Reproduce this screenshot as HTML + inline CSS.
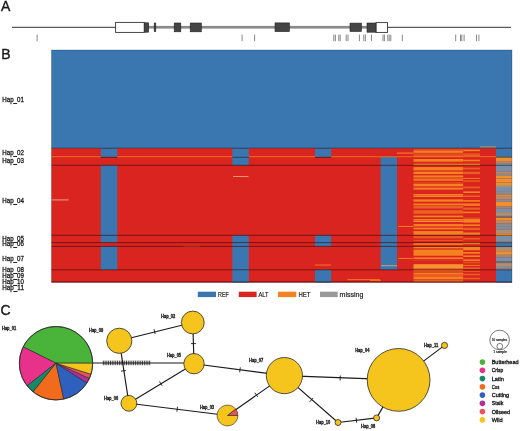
<!DOCTYPE html>
<html><head><meta charset="utf-8"><style>
html,body{margin:0;padding:0;background:#fff;}
svg{display:block;font-family:"Liberation Sans",sans-serif;will-change:transform;}
text{fill:#1a1a1a;}
</style></head><body>
<svg width="520" height="431" viewBox="0 0 520 431">
<text x="1.00" y="10.90" font-size="14" stroke="#111" stroke-width="0.35">A</text>
<line x1="12.00" y1="27.30" x2="116.00" y2="27.30" stroke="#333" stroke-width="1"/>
<line x1="387.60" y1="27.30" x2="511.00" y2="27.30" stroke="#333" stroke-width="1"/>
<rect x="148.00" y="25.90" width="202.00" height="2.70" fill="#8a8a8a"/>
<rect x="361.00" y="25.90" width="6.00" height="2.70" fill="#8a8a8a"/>
<rect x="115.6" y="22.4" width="28.6" height="10" fill="#fff" stroke="#333" stroke-width="0.9"/>
<rect x="376" y="22.6" width="11.5" height="9.8" fill="#fff" stroke="#333" stroke-width="0.9"/>
<rect x="144.4" y="22.8" width="4.199999999999989" height="9.400000000000002" fill="#444" stroke="#222" stroke-width="0.6"/>
<rect x="154.2" y="23.0" width="1.6000000000000227" height="8.600000000000001" fill="#444" stroke="#222" stroke-width="0.6"/>
<rect x="174.2" y="23.0" width="6.600000000000023" height="8.8" fill="#444" stroke="#222" stroke-width="0.6"/>
<rect x="190.2" y="23.0" width="11.100000000000023" height="8.8" fill="#444" stroke="#222" stroke-width="0.6"/>
<rect x="275" y="22.9" width="14.399999999999977" height="8.700000000000003" fill="#444" stroke="#222" stroke-width="0.6"/>
<rect x="350" y="23.1" width="11.399999999999977" height="8.399999999999999" fill="#444" stroke="#222" stroke-width="0.6"/>
<rect x="367" y="23.0" width="9" height="9.200000000000003" fill="#444" stroke="#222" stroke-width="0.6"/>
<line x1="37.10" y1="34.60" x2="37.10" y2="41.20" stroke="#7a7a7a" stroke-width="0.9"/>
<line x1="242.10" y1="34.60" x2="242.10" y2="41.20" stroke="#7a7a7a" stroke-width="0.9"/>
<line x1="254.60" y1="34.60" x2="254.60" y2="41.20" stroke="#7a7a7a" stroke-width="0.9"/>
<line x1="333.80" y1="34.60" x2="333.80" y2="41.20" stroke="#7a7a7a" stroke-width="0.9"/>
<line x1="335.40" y1="34.60" x2="335.40" y2="41.20" stroke="#7a7a7a" stroke-width="0.9"/>
<line x1="338.80" y1="34.60" x2="338.80" y2="41.20" stroke="#7a7a7a" stroke-width="0.9"/>
<line x1="340.20" y1="34.60" x2="340.20" y2="41.20" stroke="#7a7a7a" stroke-width="0.9"/>
<line x1="346.20" y1="34.60" x2="346.20" y2="41.20" stroke="#7a7a7a" stroke-width="0.9"/>
<line x1="348.00" y1="34.60" x2="348.00" y2="41.20" stroke="#7a7a7a" stroke-width="0.9"/>
<line x1="359.40" y1="34.60" x2="359.40" y2="41.20" stroke="#7a7a7a" stroke-width="0.9"/>
<line x1="363.80" y1="34.60" x2="363.80" y2="41.20" stroke="#7a7a7a" stroke-width="0.9"/>
<line x1="365.40" y1="34.60" x2="365.40" y2="41.20" stroke="#7a7a7a" stroke-width="0.9"/>
<line x1="371.50" y1="34.60" x2="371.50" y2="41.20" stroke="#7a7a7a" stroke-width="0.9"/>
<line x1="383.00" y1="34.60" x2="383.00" y2="41.20" stroke="#7a7a7a" stroke-width="0.9"/>
<line x1="384.40" y1="34.60" x2="384.40" y2="41.20" stroke="#7a7a7a" stroke-width="0.9"/>
<line x1="387.80" y1="34.60" x2="387.80" y2="41.20" stroke="#7a7a7a" stroke-width="0.9"/>
<line x1="389.20" y1="34.60" x2="389.20" y2="41.20" stroke="#7a7a7a" stroke-width="0.9"/>
<line x1="390.80" y1="34.60" x2="390.80" y2="41.20" stroke="#7a7a7a" stroke-width="0.9"/>
<line x1="402.30" y1="34.60" x2="402.30" y2="41.20" stroke="#7a7a7a" stroke-width="0.9"/>
<line x1="455.70" y1="34.60" x2="455.70" y2="41.20" stroke="#7a7a7a" stroke-width="0.9"/>
<line x1="460.50" y1="34.60" x2="460.50" y2="41.20" stroke="#7a7a7a" stroke-width="0.9"/>
<line x1="461.80" y1="34.60" x2="461.80" y2="41.20" stroke="#7a7a7a" stroke-width="0.9"/>
<line x1="464.10" y1="34.60" x2="464.10" y2="41.20" stroke="#7a7a7a" stroke-width="0.9"/>
<line x1="476.50" y1="34.60" x2="476.50" y2="41.20" stroke="#7a7a7a" stroke-width="0.9"/>
<line x1="478.90" y1="34.60" x2="478.90" y2="41.20" stroke="#7a7a7a" stroke-width="0.9"/>
<text x="1.20" y="58.90" font-size="14" stroke="#111" stroke-width="0.35">B</text>
<rect x="51.50" y="50.00" width="460.50" height="98.20" fill="#3a77b0"/>
<rect x="51.50" y="148.20" width="460.50" height="134.30" fill="#d9241f"/>
<rect x="100.70" y="148.20" width="16.60" height="8.80" fill="#3a77b0"/>
<rect x="100.70" y="165.30" width="16.60" height="70.00" fill="#3a77b0"/>
<rect x="100.70" y="235.30" width="16.60" height="7.30" fill="#3a77b0"/>
<rect x="100.70" y="246.40" width="16.60" height="23.40" fill="#3a77b0"/>
<rect x="232.30" y="148.20" width="16.50" height="8.80" fill="#3a77b0"/>
<rect x="232.30" y="157.00" width="16.50" height="8.30" fill="#3a77b0"/>
<rect x="232.30" y="235.30" width="16.50" height="7.30" fill="#3a77b0"/>
<rect x="232.30" y="242.60" width="16.50" height="3.80" fill="#3a77b0"/>
<rect x="232.30" y="246.40" width="16.50" height="23.40" fill="#3a77b0"/>
<rect x="232.30" y="269.80" width="16.50" height="12.70" fill="#3a77b0"/>
<rect x="315.00" y="148.20" width="16.20" height="8.80" fill="#3a77b0"/>
<rect x="315.00" y="235.30" width="16.20" height="7.30" fill="#3a77b0"/>
<rect x="315.00" y="242.60" width="16.20" height="3.80" fill="#3a77b0"/>
<rect x="315.00" y="269.80" width="16.20" height="12.70" fill="#3a77b0"/>
<rect x="380.60" y="157.00" width="16.40" height="8.30" fill="#3a77b0"/>
<rect x="380.60" y="165.30" width="16.40" height="70.00" fill="#3a77b0"/>
<rect x="380.60" y="235.30" width="16.40" height="7.30" fill="#3a77b0"/>
<rect x="380.60" y="242.60" width="16.40" height="3.80" fill="#3a77b0"/>
<rect x="380.60" y="246.40" width="16.40" height="23.40" fill="#3a77b0"/>
<rect x="496.00" y="148.20" width="16.00" height="8.80" fill="#3a77b0"/>
<rect x="496.00" y="269.80" width="16.00" height="12.70" fill="#3a77b0"/>
<rect x="413.5" y="149.6" width="49.70" height="0.90" fill="#f58220"/>
<rect x="413.5" y="150.89999999999998" width="49.70" height="0.90" fill="#f99430"/>
<rect x="413.5" y="152.2" width="49.70" height="1.00" fill="#f58220"/>
<rect x="413.5" y="153.6" width="49.70" height="0.90" fill="#ea5f22"/>
<rect x="413.5" y="154.89999999999998" width="49.70" height="0.90" fill="#ea5f22"/>
<rect x="413.5" y="156.2" width="49.70" height="1.00" fill="#f58220"/>
<rect x="413.5" y="159.0" width="49.70" height="2.70" fill="#f58220"/>
<rect x="413.5" y="163.7" width="49.70" height="1.60" fill="#f58220"/>
<rect x="413.5" y="167.1" width="49.70" height="2.90" fill="#f58220"/>
<rect x="413.5" y="170.39999999999998" width="49.70" height="1.20" fill="#ea5f22"/>
<rect x="413.5" y="172.0" width="49.70" height="2.10" fill="#f58220"/>
<rect x="413.5" y="175.39999999999998" width="49.70" height="2.10" fill="#f58220"/>
<rect x="413.5" y="177.89999999999998" width="49.70" height="0.90" fill="#ea5f22"/>
<rect x="413.5" y="179.2" width="49.70" height="1.60" fill="#f58220"/>
<rect x="413.5" y="182.6" width="49.70" height="0.90" fill="#ea5f22"/>
<rect x="413.5" y="183.89999999999998" width="49.70" height="2.30" fill="#f58220"/>
<rect x="413.5" y="186.6" width="49.70" height="1.00" fill="#ea5f22"/>
<rect x="413.5" y="188.0" width="49.70" height="1.60" fill="#f58220"/>
<rect x="413.5" y="194.0" width="49.70" height="1.70" fill="#f58220"/>
<rect x="413.5" y="196.1" width="49.70" height="0.90" fill="#f99430"/>
<rect x="413.5" y="199.39999999999998" width="49.70" height="2.30" fill="#f58220"/>
<rect x="413.5" y="203.5" width="49.70" height="1.60" fill="#f58220"/>
<rect x="413.5" y="205.5" width="49.70" height="3.00" fill="#ea5f22"/>
<rect x="413.5" y="210.2" width="49.70" height="3.60" fill="#ea5f22"/>
<rect x="413.5" y="215.6" width="49.70" height="1.70" fill="#f58220"/>
<rect x="413.5" y="219.0" width="49.70" height="1.60" fill="#f58220"/>
<rect x="413.5" y="221.0" width="49.70" height="1.00" fill="#f99430"/>
<rect x="413.5" y="224.1" width="49.70" height="1.90" fill="#f58220"/>
<rect x="413.5" y="226.39999999999998" width="49.70" height="1.00" fill="#ea5f22"/>
<rect x="413.5" y="227.79999999999998" width="49.70" height="1.60" fill="#f58220"/>
<rect x="413.5" y="231.1" width="49.70" height="3.70" fill="#f58220"/>
<rect x="413.5" y="236.2" width="49.70" height="2.00" fill="#ea5f22"/>
<rect x="413.5" y="239.89999999999998" width="49.70" height="0.90" fill="#ea5f22"/>
<rect x="413.5" y="243.2" width="49.70" height="1.70" fill="#f58220"/>
<rect x="413.5" y="246.7" width="49.70" height="1.60" fill="#f58220"/>
<rect x="413.5" y="248.7" width="49.70" height="0.90" fill="#ea5f22"/>
<rect x="413.5" y="250.0" width="49.70" height="5.70" fill="#f58220"/>
<rect x="413.5" y="257.4" width="49.70" height="1.70" fill="#f58220"/>
<rect x="413.5" y="260.0" width="49.70" height="0.20" fill="#f58220"/>
<rect x="413.5" y="264.2" width="49.70" height="4.40" fill="#f99430"/>
<rect x="413.5" y="269.0" width="49.70" height="0.90" fill="#ea5f22"/>
<rect x="413.5" y="270.3" width="49.70" height="1.00" fill="#f58220"/>
<rect x="413.5" y="271.7" width="49.70" height="0.90" fill="#ea5f22"/>
<rect x="413.5" y="273.0" width="49.70" height="1.60" fill="#f58220"/>
<rect x="413.5" y="275.0" width="49.70" height="1.00" fill="#ea5f22"/>
<rect x="413.5" y="276.4" width="49.70" height="2.90" fill="#f58220"/>
<rect x="413.5" y="279.7" width="49.70" height="2.60" fill="#ea5f22"/>
<rect x="463.2" y="149.6" width="16.80" height="1.60" fill="#f58220"/>
<rect x="463.2" y="153.6" width="16.80" height="0.90" fill="#f58220"/>
<rect x="463.2" y="154.89999999999998" width="16.80" height="2.30" fill="#ea5f22"/>
<rect x="463.2" y="159.7" width="16.80" height="1.60" fill="#f58220"/>
<rect x="463.2" y="163.7" width="16.80" height="1.60" fill="#f58220"/>
<rect x="463.2" y="167.7" width="16.80" height="1.70" fill="#ea5f22"/>
<rect x="463.2" y="171.79999999999998" width="16.80" height="2.30" fill="#ea5f22"/>
<rect x="463.2" y="177.89999999999998" width="16.80" height="0.90" fill="#f58220"/>
<rect x="463.2" y="180.6" width="16.80" height="0.90" fill="#f58220"/>
<rect x="463.2" y="186.6" width="16.80" height="1.70" fill="#ea5f22"/>
<rect x="463.2" y="191.39999999999998" width="16.80" height="1.60" fill="#f58220"/>
<rect x="463.2" y="195.39999999999998" width="16.80" height="1.60" fill="#ea5f22"/>
<rect x="463.2" y="200.1" width="16.80" height="1.60" fill="#f58220"/>
<rect x="463.2" y="203.5" width="16.80" height="2.30" fill="#f58220"/>
<rect x="463.2" y="207.6" width="16.80" height="2.20" fill="#ea5f22"/>
<rect x="463.2" y="211.6" width="16.80" height="1.60" fill="#f58220"/>
<rect x="463.2" y="217.7" width="16.80" height="0.90" fill="#ea5f22"/>
<rect x="463.2" y="219.0" width="16.80" height="3.60" fill="#f58220"/>
<rect x="463.2" y="224.39999999999998" width="16.80" height="1.60" fill="#f58220"/>
<rect x="463.2" y="227.79999999999998" width="16.80" height="2.20" fill="#ea5f22"/>
<rect x="463.2" y="232.5" width="16.80" height="2.30" fill="#f58220"/>
<rect x="463.2" y="237.89999999999998" width="16.80" height="1.60" fill="#ea5f22"/>
<rect x="463.2" y="242.6" width="16.80" height="1.60" fill="#f58220"/>
<rect x="463.2" y="246.7" width="16.80" height="3.60" fill="#f58220"/>
<rect x="463.2" y="252.0" width="16.80" height="1.70" fill="#f58220"/>
<rect x="463.2" y="255.39999999999998" width="16.80" height="1.60" fill="#f58220"/>
<rect x="463.2" y="259.4" width="16.80" height="1.70" fill="#f58220"/>
<rect x="463.2" y="262.2" width="16.80" height="1.00" fill="#ea5f22"/>
<rect x="463.2" y="264.9" width="16.80" height="0.90" fill="#f58220"/>
<rect x="463.2" y="267.59999999999997" width="16.80" height="1.00" fill="#f58220"/>
<rect x="463.2" y="271.0" width="16.80" height="0.90" fill="#ea5f22"/>
<rect x="463.2" y="273.7" width="16.80" height="1.60" fill="#ea5f22"/>
<rect x="463.2" y="277.7" width="16.80" height="1.60" fill="#ea5f22"/>
<rect x="496" y="157" width="16" height="4.30" fill="#f0902a"/>
<rect x="496" y="161.3" width="16" height="2.10" fill="#ad9070"/>
<rect x="496" y="163.4" width="16" height="2.50" fill="#7890aa"/>
<rect x="496" y="165.9" width="16" height="5.80" fill="#7890aa"/>
<rect x="496" y="171.7" width="16" height="2.10" fill="#ad9070"/>
<rect x="496" y="173.8" width="16" height="2.10" fill="#8c8c8c"/>
<rect x="496" y="175.9" width="16" height="2.10" fill="#f0902a"/>
<rect x="496" y="178" width="16" height="0.80" fill="#8c8c8c"/>
<rect x="496" y="178.8" width="16" height="3.20" fill="#f0902a"/>
<rect x="496" y="182" width="16" height="0.70" fill="#ad9070"/>
<rect x="496" y="182.7" width="16" height="2.30" fill="#f0902a"/>
<rect x="496" y="185" width="16" height="2.00" fill="#ad9070"/>
<rect x="496" y="187" width="16" height="4.90" fill="#7890aa"/>
<rect x="496" y="191.9" width="16" height="2.80" fill="#8c8c8c"/>
<rect x="496" y="194.7" width="16" height="2.10" fill="#d09050"/>
<rect x="496" y="196.8" width="16" height="2.80" fill="#ad9070"/>
<rect x="496" y="199.6" width="16" height="2.10" fill="#7890aa"/>
<rect x="496" y="201.7" width="16" height="4.80" fill="#f0902a"/>
<rect x="496" y="206.5" width="16" height="2.10" fill="#8c8c8c"/>
<rect x="496" y="208.6" width="16" height="3.50" fill="#7890aa"/>
<rect x="496" y="212.1" width="16" height="2.90" fill="#ad9070"/>
<rect x="496" y="215" width="16" height="1.50" fill="#8c8c8c"/>
<rect x="496" y="216.5" width="16" height="1.40" fill="#6a6a70"/>
<rect x="496" y="217.9" width="16" height="2.80" fill="#f0902a"/>
<rect x="496" y="220.7" width="16" height="2.70" fill="#ad9070"/>
<rect x="496" y="223.4" width="16" height="3.50" fill="#8c8c8c"/>
<rect x="496" y="226.9" width="16" height="2.80" fill="#7890aa"/>
<rect x="496" y="229.7" width="16" height="4.20" fill="#ad9070"/>
<rect x="496" y="233.9" width="16" height="2.10" fill="#f0902a"/>
<rect x="496" y="236" width="16" height="5.50" fill="#7890aa"/>
<rect x="496" y="241.5" width="16" height="1.50" fill="#8c8c8c"/>
<rect x="496" y="243" width="16" height="4.10" fill="#3a77b0"/>
<rect x="496" y="247.1" width="16" height="4.20" fill="#ad9070"/>
<rect x="496" y="251.3" width="16" height="3.50" fill="#f0902a"/>
<rect x="496" y="254.8" width="16" height="2.80" fill="#8c8c8c"/>
<rect x="496" y="257.6" width="16" height="3.40" fill="#7890aa"/>
<rect x="496" y="261" width="16" height="2.10" fill="#6a6a70"/>
<rect x="496" y="263.1" width="16" height="2.90" fill="#ad9070"/>
<rect x="496" y="266" width="16" height="2.70" fill="#8c8c8c"/>
<rect x="496" y="268.7" width="16" height="1.10" fill="#7890aa"/>
<rect x="480" y="145.9" width="16" height="2.2" fill="#8a8585"/>
<rect x="51.5" y="156.15" width="49.2" height="1.1" fill="#f58220" fill-opacity="0.7"/>
<rect x="117.3" y="156.15" width="115.00000000000001" height="1.1" fill="#f58220" fill-opacity="0.7"/>
<rect x="248.8" y="156.15" width="66.19999999999999" height="1.1" fill="#f58220" fill-opacity="0.7"/>
<rect x="331.2" y="156.15" width="82.30000000000001" height="1.1" fill="#f58220" fill-opacity="0.7"/>
<rect x="480" y="156.15" width="16" height="1.1" fill="#f58220" fill-opacity="0.7"/>
<rect x="396.9" y="152.50" width="16.600000000000023" height="1.2" fill="#f07a30" fill-opacity="1"/>
<rect x="51.5" y="199.40" width="17.200000000000003" height="1.0" fill="#e8a090" fill-opacity="1"/>
<rect x="233" y="176.05" width="15.5" height="0.9" fill="#f5a070" fill-opacity="1"/>
<rect x="183.5" y="246.20" width="16.30000000000001" height="0.8" fill="#e88040" fill-opacity="0.7"/>
<rect x="315" y="264.55" width="16" height="0.9" fill="#f58220" fill-opacity="1"/>
<rect x="347.4" y="279.25" width="32.60000000000002" height="0.9" fill="#f58220" fill-opacity="1"/>
<rect x="381" y="265.20" width="16" height="1.0" fill="#c8a070" fill-opacity="1"/>
<rect x="397.9" y="257.95" width="15.100000000000023" height="0.9" fill="#f58220" fill-opacity="1"/>
<rect x="397.9" y="225.95" width="15.100000000000023" height="0.9" fill="#f58220" fill-opacity="1"/>
<rect x="370" y="280.25" width="11" height="0.9" fill="#f58220" fill-opacity="1"/>
<rect x="100.70" y="156.80" width="16.60" height="1.00" fill="#000" fill-opacity="0.45"/>
<rect x="232.30" y="156.80" width="16.50" height="1.00" fill="#000" fill-opacity="0.45"/>
<rect x="315.00" y="156.80" width="16.20" height="1.00" fill="#000" fill-opacity="0.45"/>
<rect x="496.00" y="156.80" width="16.00" height="1.00" fill="#000" fill-opacity="0.45"/>
<rect x="51.50" y="147.70" width="460.50" height="1.00" fill="#000" fill-opacity="0.45"/>
<rect x="51.50" y="164.80" width="460.50" height="1.00" fill="#000" fill-opacity="0.45"/>
<rect x="51.50" y="234.80" width="460.50" height="1.00" fill="#000" fill-opacity="0.45"/>
<rect x="51.50" y="242.10" width="460.50" height="1.00" fill="#000" fill-opacity="0.45"/>
<rect x="51.50" y="245.90" width="460.50" height="1.00" fill="#000" fill-opacity="0.45"/>
<rect x="51.50" y="269.30" width="460.50" height="1.00" fill="#000" fill-opacity="0.45"/>
<rect x="51.50" y="281.30" width="460.50" height="1.00" fill="#000" fill-opacity="0.45"/>
<rect x="51.5" y="50" width="460.5" height="232.5" fill="none" stroke="#000" stroke-opacity="0.3" stroke-width="0.8"/>
<text x="2.30" y="101.50" font-size="6.4" textLength="21.6" lengthAdjust="spacingAndGlyphs" stroke="#222" stroke-width="0.3">Hap_01</text>
<text x="2.30" y="155.10" font-size="6.4" textLength="21.6" lengthAdjust="spacingAndGlyphs" stroke="#222" stroke-width="0.3">Hap_02</text>
<text x="2.30" y="163.40" font-size="6.4" textLength="21.6" lengthAdjust="spacingAndGlyphs" stroke="#222" stroke-width="0.3">Hap_03</text>
<text x="2.30" y="202.70" font-size="6.4" textLength="21.6" lengthAdjust="spacingAndGlyphs" stroke="#222" stroke-width="0.3">Hap_04</text>
<text x="2.30" y="240.80" font-size="6.4" textLength="21.6" lengthAdjust="spacingAndGlyphs" stroke="#222" stroke-width="0.3">Hap_05</text>
<text x="2.30" y="246.20" font-size="6.4" textLength="21.6" lengthAdjust="spacingAndGlyphs" stroke="#222" stroke-width="0.3">Hap_06</text>
<text x="2.30" y="260.70" font-size="6.4" textLength="21.6" lengthAdjust="spacingAndGlyphs" stroke="#222" stroke-width="0.3">Hap_07</text>
<text x="2.30" y="271.70" font-size="6.4" textLength="21.6" lengthAdjust="spacingAndGlyphs" stroke="#222" stroke-width="0.3">Hap_08</text>
<text x="2.30" y="277.60" font-size="6.4" textLength="21.6" lengthAdjust="spacingAndGlyphs" stroke="#222" stroke-width="0.3">Hap_09</text>
<text x="2.30" y="283.50" font-size="6.4" textLength="21.6" lengthAdjust="spacingAndGlyphs" stroke="#222" stroke-width="0.3">Hap_10</text>
<text x="2.30" y="289.60" font-size="6.4" textLength="21.6" lengthAdjust="spacingAndGlyphs" stroke="#222" stroke-width="0.3">Hap_11</text>
<rect x="197.80" y="291.70" width="18.20" height="5.40" fill="#3a77b0"/>
<text x="218.00" y="296.80" font-size="6.9" textLength="10.8" lengthAdjust="spacingAndGlyphs" stroke="#222" stroke-width="0.2">REF</text>
<rect x="238.80" y="291.70" width="17.80" height="5.40" fill="#d9241f"/>
<text x="258.40" y="296.80" font-size="6.9" textLength="10.1" lengthAdjust="spacingAndGlyphs" stroke="#222" stroke-width="0.2">ALT</text>
<rect x="278.00" y="291.70" width="18.30" height="5.40" fill="#f58220"/>
<text x="298.50" y="296.80" font-size="6.9" textLength="11.9" lengthAdjust="spacingAndGlyphs" stroke="#222" stroke-width="0.2">HET</text>
<rect x="320.00" y="291.70" width="17.70" height="5.40" fill="#999999"/>
<text x="339.60" y="296.80" font-size="6.9" textLength="23.7" lengthAdjust="spacingAndGlyphs" stroke="#222" stroke-width="0.2">missing</text>
<text x="0.50" y="314.80" font-size="14" stroke="#111" stroke-width="0.35">C</text>
<line x1="92.50" y1="363.00" x2="184.00" y2="363.00" stroke="#1a1a1a" stroke-width="1.15"/>
<line x1="103.30" y1="360.60" x2="103.30" y2="365.20" stroke="#111" stroke-width="0.8"/>
<line x1="105.08" y1="360.60" x2="105.08" y2="365.20" stroke="#111" stroke-width="0.8"/>
<line x1="106.87" y1="360.60" x2="106.87" y2="365.20" stroke="#111" stroke-width="0.8"/>
<line x1="108.65" y1="360.60" x2="108.65" y2="365.20" stroke="#111" stroke-width="0.8"/>
<line x1="110.44" y1="360.60" x2="110.44" y2="365.20" stroke="#111" stroke-width="0.8"/>
<line x1="112.22" y1="360.60" x2="112.22" y2="365.20" stroke="#111" stroke-width="0.8"/>
<line x1="114.01" y1="360.60" x2="114.01" y2="365.20" stroke="#111" stroke-width="0.8"/>
<line x1="115.79" y1="360.60" x2="115.79" y2="365.20" stroke="#111" stroke-width="0.8"/>
<line x1="117.58" y1="360.60" x2="117.58" y2="365.20" stroke="#111" stroke-width="0.8"/>
<line x1="119.36" y1="360.60" x2="119.36" y2="365.20" stroke="#111" stroke-width="0.8"/>
<line x1="121.15" y1="360.60" x2="121.15" y2="365.20" stroke="#111" stroke-width="0.8"/>
<line x1="122.93" y1="360.60" x2="122.93" y2="365.20" stroke="#111" stroke-width="0.8"/>
<line x1="124.72" y1="360.60" x2="124.72" y2="365.20" stroke="#111" stroke-width="0.8"/>
<line x1="126.50" y1="360.60" x2="126.50" y2="365.20" stroke="#111" stroke-width="0.8"/>
<line x1="128.28" y1="360.60" x2="128.28" y2="365.20" stroke="#111" stroke-width="0.8"/>
<line x1="130.07" y1="360.60" x2="130.07" y2="365.20" stroke="#111" stroke-width="0.8"/>
<line x1="131.85" y1="360.60" x2="131.85" y2="365.20" stroke="#111" stroke-width="0.8"/>
<line x1="133.64" y1="360.60" x2="133.64" y2="365.20" stroke="#111" stroke-width="0.8"/>
<line x1="135.42" y1="360.60" x2="135.42" y2="365.20" stroke="#111" stroke-width="0.8"/>
<line x1="137.21" y1="360.60" x2="137.21" y2="365.20" stroke="#111" stroke-width="0.8"/>
<line x1="138.99" y1="360.60" x2="138.99" y2="365.20" stroke="#111" stroke-width="0.8"/>
<line x1="140.78" y1="360.60" x2="140.78" y2="365.20" stroke="#111" stroke-width="0.8"/>
<line x1="142.56" y1="360.60" x2="142.56" y2="365.20" stroke="#111" stroke-width="0.8"/>
<line x1="144.35" y1="360.60" x2="144.35" y2="365.20" stroke="#111" stroke-width="0.8"/>
<line x1="146.13" y1="360.60" x2="146.13" y2="365.20" stroke="#111" stroke-width="0.8"/>
<line x1="147.92" y1="360.60" x2="147.92" y2="365.20" stroke="#111" stroke-width="0.8"/>
<line x1="149.70" y1="360.60" x2="149.70" y2="365.20" stroke="#111" stroke-width="0.8"/>
<line x1="119.30" y1="340.80" x2="192.80" y2="322.50" stroke="#1a1a1a" stroke-width="1.15"/>
<line x1="154.00" y1="329.17" x2="155.20" y2="334.03" stroke="#1a1a1a" stroke-width="0.9"/>
<line x1="192.80" y1="322.50" x2="194.00" y2="363.70" stroke="#1a1a1a" stroke-width="1.15"/>
<line x1="196.00" y1="343.60" x2="191.00" y2="343.60" stroke="#1a1a1a" stroke-width="0.9"/>
<line x1="119.30" y1="340.80" x2="128.90" y2="403.30" stroke="#1a1a1a" stroke-width="1.15"/>
<line x1="125.87" y1="370.42" x2="120.93" y2="371.18" stroke="#1a1a1a" stroke-width="0.9"/>
<line x1="128.90" y1="403.30" x2="194.00" y2="363.70" stroke="#1a1a1a" stroke-width="1.15"/>
<line x1="159.50" y1="381.46" x2="162.10" y2="385.74" stroke="#1a1a1a" stroke-width="0.9"/>
<line x1="128.90" y1="403.30" x2="227.50" y2="415.50" stroke="#1a1a1a" stroke-width="1.15"/>
<line x1="177.51" y1="406.72" x2="176.89" y2="411.68" stroke="#1a1a1a" stroke-width="0.9"/>
<line x1="194.00" y1="363.70" x2="284.40" y2="375.60" stroke="#1a1a1a" stroke-width="1.15"/>
<line x1="240.33" y1="367.32" x2="239.67" y2="372.28" stroke="#1a1a1a" stroke-width="0.9"/>
<line x1="284.40" y1="375.60" x2="398.60" y2="379.90" stroke="#1a1a1a" stroke-width="1.15"/>
<line x1="340.29" y1="375.50" x2="340.11" y2="380.50" stroke="#1a1a1a" stroke-width="0.9"/>
<line x1="284.40" y1="375.60" x2="227.50" y2="415.50" stroke="#1a1a1a" stroke-width="1.15"/>
<line x1="257.74" y1="396.85" x2="254.86" y2="392.75" stroke="#1a1a1a" stroke-width="0.9"/>
<line x1="284.40" y1="375.60" x2="338.00" y2="422.50" stroke="#1a1a1a" stroke-width="1.15"/>
<line x1="312.95" y1="398.12" x2="309.65" y2="401.88" stroke="#1a1a1a" stroke-width="0.9"/>
<line x1="398.60" y1="379.90" x2="444.50" y2="345.40" stroke="#1a1a1a" stroke-width="1.15"/>
<line x1="398.60" y1="379.90" x2="376.60" y2="417.90" stroke="#1a1a1a" stroke-width="1.15"/>
<line x1="338.00" y1="422.50" x2="376.60" y2="417.90" stroke="#1a1a1a" stroke-width="1.15"/>
<line x1="356.10" y1="417.82" x2="356.70" y2="422.78" stroke="#1a1a1a" stroke-width="0.9"/>
<path d="M56.00,363.20 L92.70,363.20 A36.7,36.7 0 0 0 23.13,346.88 Z" fill="#4ab33a" stroke="#222" stroke-width="0.6" stroke-linejoin="round"/>
<path d="M56.00,363.20 L23.13,346.88 A36.7,36.7 0 0 0 27.08,385.79 Z" fill="#e8318a" stroke="#222" stroke-width="0.6" stroke-linejoin="round"/>
<path d="M56.00,363.20 L27.08,385.79 A36.7,36.7 0 0 0 33.15,391.92 Z" fill="#168a68" stroke="#222" stroke-width="0.6" stroke-linejoin="round"/>
<path d="M56.00,363.20 L33.15,391.92 A36.7,36.7 0 0 0 63.76,399.07 Z" fill="#f26b1d" stroke="#222" stroke-width="0.6" stroke-linejoin="round"/>
<path d="M56.00,363.20 L63.76,399.07 A36.7,36.7 0 0 0 86.92,382.97 Z" fill="#2e60be" stroke="#222" stroke-width="0.6" stroke-linejoin="round"/>
<path d="M56.00,363.20 L86.92,382.97 A36.7,36.7 0 0 0 89.40,378.42 Z" fill="#b0309a" stroke="#222" stroke-width="0.6" stroke-linejoin="round"/>
<path d="M56.00,363.20 L89.40,378.42 A36.7,36.7 0 0 0 91.00,374.24 Z" fill="#e8545a" stroke="#222" stroke-width="0.6" stroke-linejoin="round"/>
<path d="M56.00,363.20 L91.00,374.24 A36.7,36.7 0 0 0 92.70,363.20 Z" fill="#f5c41d" stroke="#222" stroke-width="0.6" stroke-linejoin="round"/>
<circle cx="56.0" cy="363.2" r="36.7" fill="none" stroke="#2a2a2a" stroke-width="0.8"/>
<circle cx="119.3" cy="340.8" r="12.6" fill="#f5c41d" stroke="#2a2a2a" stroke-width="0.8"/>
<circle cx="192.8" cy="322.5" r="11.4" fill="#f5c41d" stroke="#2a2a2a" stroke-width="0.8"/>
<circle cx="194" cy="363.7" r="10.2" fill="#f5c41d" stroke="#2a2a2a" stroke-width="0.8"/>
<circle cx="128.9" cy="403.3" r="7.9" fill="#f5c41d" stroke="#2a2a2a" stroke-width="0.8"/>
<path d="M227.50,415.50 L237.90,415.50 A10.4,10.4 0 0 0 235.58,408.96 Z" fill="#e8545a" stroke="#222" stroke-width="0.6" stroke-linejoin="round"/>
<path d="M227.50,415.50 L235.58,408.96 A10.4,10.4 0 1 0 237.90,415.50 Z" fill="#f5c41d" stroke="#222" stroke-width="0.6" stroke-linejoin="round"/>
<circle cx="284.4" cy="375.6" r="18.1" fill="#f5c41d" stroke="#2a2a2a" stroke-width="0.8"/>
<circle cx="398.6" cy="379.9" r="31.4" fill="#f5c41d" stroke="#2a2a2a" stroke-width="0.8"/>
<circle cx="444.5" cy="345.4" r="3.1" fill="#f5c41d" stroke="#2a2a2a" stroke-width="0.8"/>
<circle cx="338" cy="422.5" r="3.0" fill="#f5c41d" stroke="#2a2a2a" stroke-width="0.8"/>
<circle cx="376.6" cy="417.9" r="3.0" fill="#f5c41d" stroke="#2a2a2a" stroke-width="0.8"/>
<text x="2.00" y="330.20" font-size="4.7" font-weight="bold" textLength="14.2" lengthAdjust="spacingAndGlyphs" stroke="#1a1a1a" stroke-width="0.3">Hap_01</text>
<text x="89.00" y="332.10" font-size="4.7" font-weight="bold" textLength="14.2" lengthAdjust="spacingAndGlyphs" stroke="#1a1a1a" stroke-width="0.3">Hap_09</text>
<text x="161.10" y="317.80" font-size="4.7" font-weight="bold" textLength="14.2" lengthAdjust="spacingAndGlyphs" stroke="#1a1a1a" stroke-width="0.3">Hap_02</text>
<text x="166.90" y="357.20" font-size="4.7" font-weight="bold" textLength="14.2" lengthAdjust="spacingAndGlyphs" stroke="#1a1a1a" stroke-width="0.3">Hap_05</text>
<text x="104.00" y="399.80" font-size="4.7" font-weight="bold" textLength="14.2" lengthAdjust="spacingAndGlyphs" stroke="#1a1a1a" stroke-width="0.3">Hap_06</text>
<text x="199.90" y="408.70" font-size="4.7" font-weight="bold" textLength="14.2" lengthAdjust="spacingAndGlyphs" stroke="#1a1a1a" stroke-width="0.3">Hap_03</text>
<text x="249.10" y="361.80" font-size="4.7" font-weight="bold" textLength="14.2" lengthAdjust="spacingAndGlyphs" stroke="#1a1a1a" stroke-width="0.3">Hap_07</text>
<text x="355.20" y="351.80" font-size="4.7" font-weight="bold" textLength="14.2" lengthAdjust="spacingAndGlyphs" stroke="#1a1a1a" stroke-width="0.3">Hap_04</text>
<text x="424.00" y="346.50" font-size="4.7" font-weight="bold" textLength="14.2" lengthAdjust="spacingAndGlyphs" stroke="#1a1a1a" stroke-width="0.3">Hap_11</text>
<text x="316.10" y="424.10" font-size="4.7" font-weight="bold" textLength="14.2" lengthAdjust="spacingAndGlyphs" stroke="#1a1a1a" stroke-width="0.3">Hap_10</text>
<text x="361.10" y="427.90" font-size="4.7" font-weight="bold" textLength="14.2" lengthAdjust="spacingAndGlyphs" stroke="#1a1a1a" stroke-width="0.3">Hap_08</text>
<circle cx="499.6" cy="340" r="9.8" fill="#fff" stroke="#222" stroke-width="0.6"/>
<circle cx="499.8" cy="346.3" r="2.9" fill="#fff" stroke="#222" stroke-width="0.6"/>
<text x="491.80" y="341.00" font-size="2.8" textLength="15.5" lengthAdjust="spacingAndGlyphs" stroke="#1a1a1a" stroke-width="0.15">10 samples</text>
<text x="493.30" y="352.60" font-size="2.8" textLength="13.5" lengthAdjust="spacingAndGlyphs" stroke="#1a1a1a" stroke-width="0.15">1 sample</text>
<circle cx="482.4" cy="362.10" r="2.8" fill="#4ab33a"/>
<text x="491.70" y="364.00" font-size="6.0" textLength="26.8" lengthAdjust="spacingAndGlyphs" stroke="#1a1a1a" stroke-width="0.35">Butterhead</text>
<circle cx="482.4" cy="370.35" r="2.8" fill="#e8318a"/>
<text x="491.70" y="372.25" font-size="6.0" textLength="11.6" lengthAdjust="spacingAndGlyphs" stroke="#1a1a1a" stroke-width="0.35">Crisp</text>
<circle cx="482.4" cy="378.60" r="2.8" fill="#168a68"/>
<text x="491.70" y="380.50" font-size="6.0" textLength="12.2" lengthAdjust="spacingAndGlyphs" stroke="#1a1a1a" stroke-width="0.35">Latin</text>
<circle cx="482.4" cy="386.85" r="2.8" fill="#f26b1d"/>
<text x="491.70" y="388.75" font-size="6.0" textLength="7.6" lengthAdjust="spacingAndGlyphs" stroke="#1a1a1a" stroke-width="0.35">Cos</text>
<circle cx="482.4" cy="395.10" r="2.8" fill="#2e60be"/>
<text x="491.70" y="397.00" font-size="6.0" textLength="17.4" lengthAdjust="spacingAndGlyphs" stroke="#1a1a1a" stroke-width="0.35">Cutting</text>
<circle cx="482.4" cy="403.35" r="2.8" fill="#b0309a"/>
<text x="491.70" y="405.25" font-size="6.0" textLength="11.7" lengthAdjust="spacingAndGlyphs" stroke="#1a1a1a" stroke-width="0.35">Stalk</text>
<circle cx="482.4" cy="411.60" r="2.8" fill="#e8545a"/>
<text x="491.70" y="413.50" font-size="6.0" textLength="18.2" lengthAdjust="spacingAndGlyphs" stroke="#1a1a1a" stroke-width="0.35">Oilseed</text>
<circle cx="482.4" cy="419.85" r="2.8" fill="#f5c41d"/>
<text x="491.70" y="421.75" font-size="6.0" textLength="10.9" lengthAdjust="spacingAndGlyphs" stroke="#1a1a1a" stroke-width="0.35">Wild</text>
</svg>
</body></html>
